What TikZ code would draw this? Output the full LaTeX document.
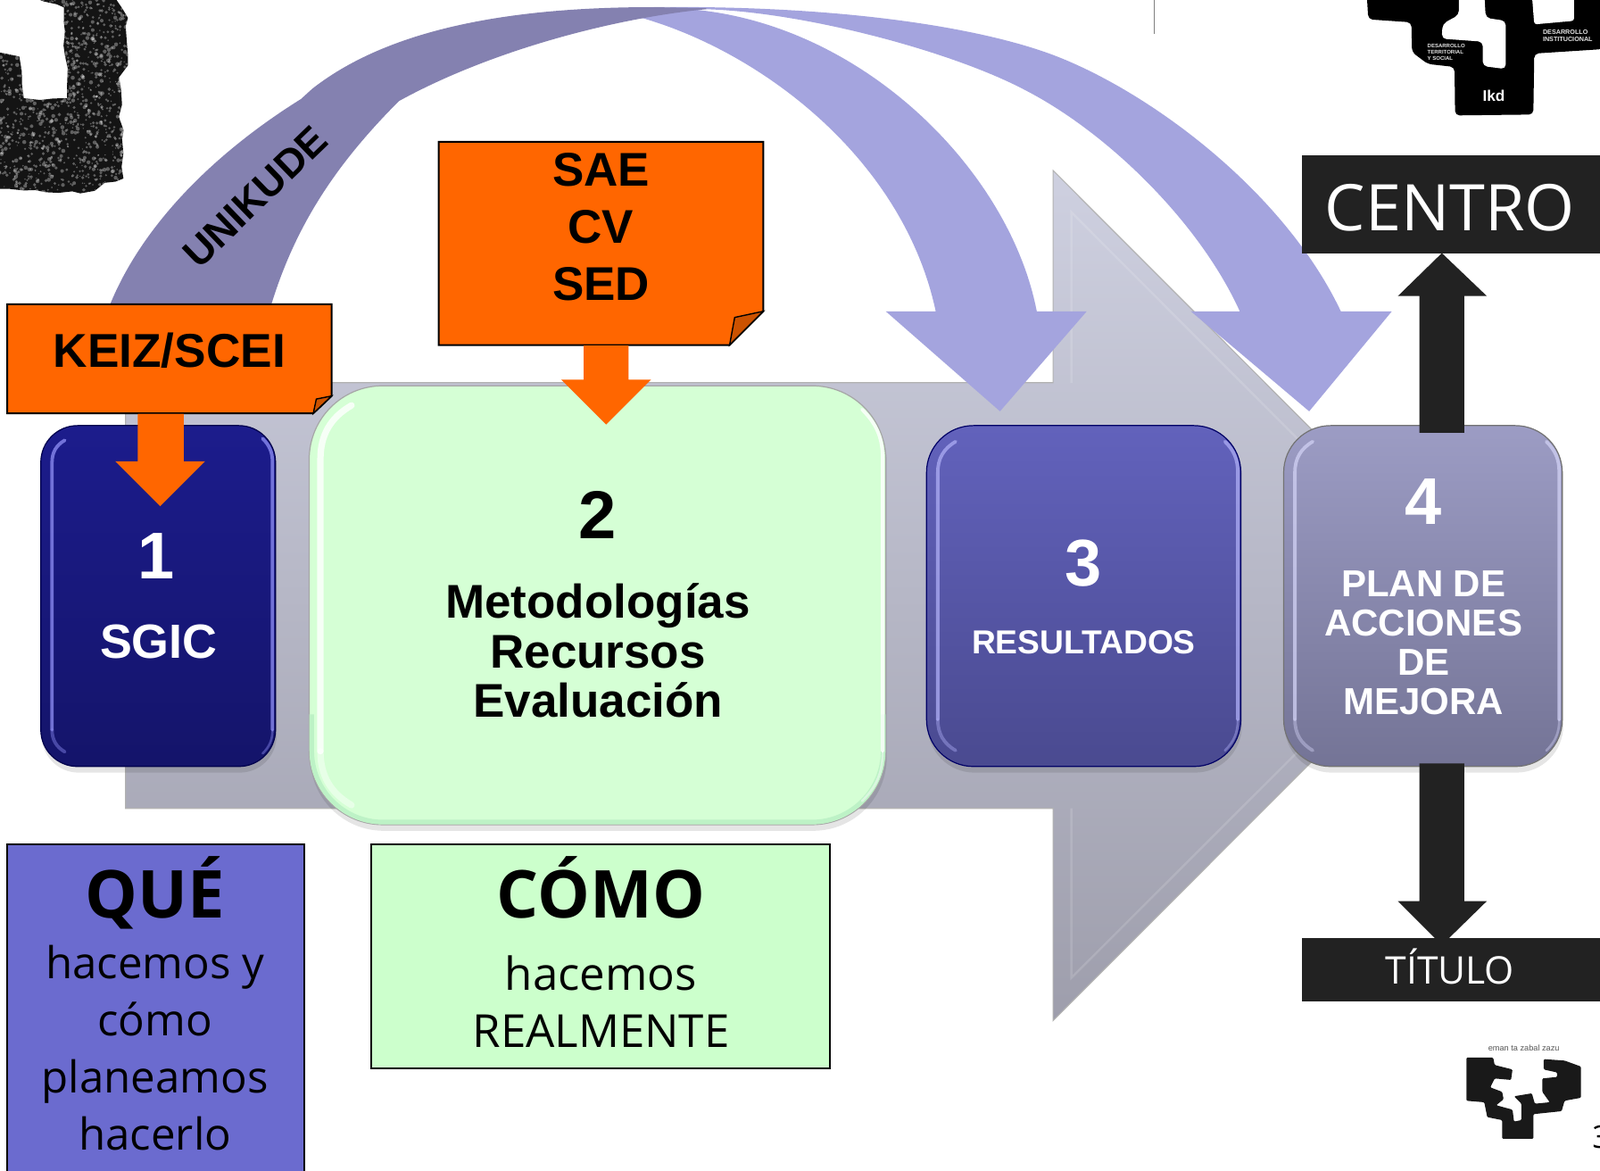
\documentclass[tikz,border=0pt]{standalone}
\usepackage{fontspec}
\usetikzlibrary{decorations.pathmorphing}
\setmainfont{Liberation Sans}
\newfontfamily\osans{Open Sans}
\definecolor{orangeC}{HTML}{FF6600}
\definecolor{foldC}{HTML}{CC5200}
\definecolor{lilac}{HTML}{A4A4DE}
\definecolor{slateC}{HTML}{8481B0}
\definecolor{inkC}{HTML}{222222}
\definecolor{queC}{HTML}{6B6BCF}
\definecolor{mintC}{HTML}{CCFFCC}
\definecolor{bigT}{HTML}{CED0E0}
\definecolor{bigB}{HTML}{9E9EAC}
\definecolor{oneT}{HTML}{1C1C8C}
\definecolor{oneB}{HTML}{14146A}
\definecolor{oneH}{HTML}{8888EE}
\definecolor{twoT}{HTML}{D5FFD5}
\definecolor{twoR}{HTML}{BDF2C6}
\definecolor{threeT}{HTML}{6262BC}
\definecolor{threeB}{HTML}{4A4A90}
\definecolor{threeH}{HTML}{A8A8F0}
\definecolor{fourT}{HTML}{9C9CC4}
\definecolor{fourB}{HTML}{747496}
\definecolor{fourH}{HTML}{CDCDF0}
\tikzset{
  bbt/.style={font=\bfseries\fontsize{#1}{#1}\selectfont,inner sep=0pt,anchor=base},
  wbt/.style={bbt=#1,text=white},
  ost/.style={font=\osans\fontsize{#1}{#1}\selectfont,inner sep=0pt,anchor=base},
  osb/.style={font=\osans\bfseries\fontsize{#1}{#1}\selectfont,inner sep=0pt,anchor=base},
  calloutC/.style={fill=orangeC,draw=black,line width=1pt,line join=miter},
  foldS/.style={fill=foldC,draw=black,line width=.7pt},
  labelbox/.style={draw=black,line width=1pt},
  tinyw/.style={font=\bfseries\fontsize{3.6}{4.2}\selectfont,text=white!90!black,inner sep=0pt,align=left,anchor=north west},
}
\newcommand{\bevelbox}[9]{%
  \fill[black,opacity=.10,rounded corners=#6*.57175pt] ({#2+1},{#3+3}) rectangle ({#4+1},{#5+6});
  \node[inner sep=0pt,rounded corners=#6*.57175pt,draw=#9,line width=.6pt,top color=#7,bottom color=#8,
        minimum width={(#4-#2)*.57175pt},minimum height={(#5-#3)*.57175pt}] (#1) at ({(#2+#4)/2},{(#3+#5)/2}) {};
}
\newcommand{\hlw}{1.9pt}
% x0 y0 x1 y1 r colour
\newcommand{\bevelhl}[6]{%
  \draw[#6,line width=\hlw,opacity=.8,line cap=round] ({#1+11},{#4-#5}) -- ({#1+11},{#2+#5}) to[out=90,in=210] ({#1+#5*.5+5.5},{#2+#5*.134+9.526});
  \draw[#6,line width=1.9pt,opacity=.8,line cap=round] ({#3-3},{#4-#5}) -- ({#3-3},{#2+#5}) to[out=90,in=-45] ({#3-#5*.2929-2.121},{#2+#5*.2929+2.121});
  \draw[#6,line width=\hlw,opacity=.45,line cap=round] ({#1+11},{#4-#5}) to[out=-90,in=150] ({#1+#5*.5+5.5},{#4-#5*.134-9.526});
  \draw[#6,line width=1.3pt,opacity=.45,line cap=round] ({#3-3},{#4-#5}) to[out=-90,in=45] ({#3-#5*.2929-2.121},{#4-#5*.2929-2.121});
}
\begin{document}
\begin{tikzpicture}[x=.57175pt,y=-.57175pt]
\useasboundingbox (0,0) rectangle (1568,1146.5);
\clip (0,0) rectangle (1568,1146.5);
\fill[white] (0,0) rectangle (1568,1146.5);

% speckled mark, top left
\begin{scope}[x=.16667pt,y=-.16667pt]
  \begin{scope}
    \clip[decorate,decoration={random steps,segment length=7pt,amplitude=1.3pt}]
      (110,-10) -- (215,25) -- (225,330) -- (80,330) -- (65,190) -- (-10,175) -- (-10,635) -- (270,650) -- (415,600) -- (400,260) -- (430,220) -- (430,60) -- (385,-10) -- cycle;
    \fill[black!92] (-10,-10) rectangle (440,660);
    \pgfmathsetseed{11}
    \foreach \i in {1,...,1300} {
      \pgfmathsetmacro{\px}{rnd*440}
      \pgfmathsetmacro{\py}{rnd*660}
      \pgfmathsetmacro{\pr}{2+rnd*5}
      \fill[white,opacity=.32] (\px,\py) circle [radius=\pr*.16667pt];
    }
  \end{scope}
\end{scope}

\draw[gray,line width=.7pt] (1131,0) -- (1131,33);

% big background arrow
\draw[draw=black!30,line width=.6pt,top color=bigT,bottom color=bigB]
  (123,375) -- (1032,375) -- (1032,167) -- (1448,583.5) -- (1032,1000) -- (1032,792) -- (123,792) -- cycle;
\draw[white,opacity=.14,line width=1.2pt] (1050,375) -- (1050,208) -- (1425,583.5) -- (1050,958) -- (1050,792);

% curved arrows
\fill[lilac] (640,7) -- (650,8) .. controls (830,8) and (988,160) .. (1016,305)
  -- (1065,305) -- (980,403) -- (868,305) -- (917,305)
  .. controls (885,155) and (745,50) .. (627,17) -- cycle;
\fill[lilac] (640,7) .. controls (830,5) and (965,28) .. (1035,55)
  .. controls (1130,92) and (1259,189) .. (1314,305)
  -- (1364,305) -- (1283,403) -- (1167,305) -- (1215,305)
  .. controls (1175,217) and (1085,130) .. (1006,89)
  .. controls (935,51) and (790,12) .. (692,9) -- cycle;
\fill[slateC] (108,298) .. controls (140,220) and (210,150) .. (295,97)
  -- (306,87) .. controls (385,25) and (510,7) .. (640,7) -- (692,8) -- (692,9)
  .. controls (600,18) and (480,50) .. (391,99)
  .. controls (330,160) and (290,220) .. (266,298) -- cycle;
\node[bbt=22.4,anchor=center,rotate=44] (unikude) at (250,193) {UNIKUDE};

% numbered boxes
\bevelbox{box1}{40}{417}{270}{751}{36}{oneT}{oneB}{black!70!blue}
\bevelhl{40}{417}{270}{751}{36}{oneH}
\bevelbox{box2}{303}{378}{868}{808}{72}{twoT}{twoT}{black!35}
\draw[twoR,line width=2.6pt,rounded corners=40pt] (305.5,700) -- (305.5,805.5) -- (865.5,805.5) -- (865.5,700);
\renewcommand{\hlw}{3.6pt}
\bevelhl{303}{378}{868}{808}{72}{white}
\renewcommand{\hlw}{1.9pt}
\bevelbox{box3}{908}{417}{1216}{751}{46}{threeT}{threeB}{black!60!blue}
\bevelhl{908}{417}{1216}{751}{46}{threeH}
\bevelbox{box4}{1258}{417}{1531}{751}{46}{fourT}{fourB}{black!55}
\bevelhl{1258}{417}{1531}{751}{46}{fourH}

\node[wbt=37] (n1) at (153,567) {1};
\node[wbt=26.9] (sgic) at (155.5,645) {SGIC};
\node[bbt=38] (n2) at (586,528) {2};
\node[bbt=26.4,anchor=center,align=center,font=\bfseries\fontsize{26.5}{27.6}\selectfont] (two) at (586,637.5) {Metodologías\\Recursos\\Evaluación};
\node[wbt=37] (n3) at (1062,574.5) {3};
\node[wbt=18.6] (res) at (1062,641) {RESULTADOS};
\node[wbt=37] (n4) at (1395,513.5) {4};
\node[wbt=21,anchor=center,align=center,font=\bfseries\fontsize{21}{22.1}\selectfont] (plan) at (1395,630) {PLAN DE\\ACCIONES\\DE\\MEJORA};

% callouts
\path[calloutC] (7,298) -- (325,298) -- (325,388) -- (307,405) -- (7,405) -- cycle;
\path[foldS] (307,405) -- (310,391) -- (325,388) -- cycle;
\node[bbt=26.6] (keiz) at (166,360) {KEIZ/SCEI};
\fill[orangeC] (135,405.5) -- (180,405.5) -- (180,452) -- (201,452) -- (157,496) -- (113,452) -- (135,452) -- cycle;

\path[calloutC] (430,139) -- (748,139) -- (748,305) -- (715,338) -- (430,338) -- cycle;
\path[foldS] (715,338) -- (720,311) -- (748,305) -- cycle;
\node[bbt=26.3,anchor=center,align=center,font=\bfseries\fontsize{26.5}{32}\selectfont] (sae) at (589,222) {SAE\\CV\\SED};
\fill[orangeC] (572,338.5) -- (616,338.5) -- (616,372) -- (638,372) -- (594,416) -- (550,372) -- (572,372) -- cycle;

% dark arrows and labels
\fill[inkC] (1391,424) -- (1391,290) -- (1370,290) -- (1413,248) -- (1457,290) -- (1435,290) -- (1435,424) -- cycle;
\fill[inkC] (1391,748) -- (1435,748) -- (1435,883) -- (1457,883) -- (1413,926) -- (1370,883) -- (1391,883) -- cycle;
\fill[inkC] (1276,152) rectangle (1568,248);
\fill[inkC] (1276,919) rectangle (1568,981);
\node[ost=36,text=white] (centro) at (1421,226) {CENTRO};
\node[ost=21.3,text=white] (titulo) at (1421,964) {TÍTULO};

% lower label boxes
\path[labelbox,fill=queC] (7,827) rectangle (298,1170);
\path[labelbox,fill=mintC] (364,827) rectangle (813,1047);
\node[osb=37] (que) at (152,899) {QUÉ};
\node[ost=25,anchor=center,align=center,font=\osans\fontsize{24.6}{32}\selectfont] (queT) at (152,1027) {hacemos y\\cómo\\planeamos\\hacerlo};
\node[osb=37] (como) at (589,899) {CÓMO};
\node[ost=25,anchor=center,align=center,font=\osans\fontsize{25.5}{32}\selectfont] (comoT) at (589,981) {hacemos\\REALMENTE};

% top-right emblem
\begin{scope}[shift={(1268,0)},x=.16667pt,y=-.16667pt]
  \fill[black,rounded corners=2.5pt] (245,-20) -- (250,65) -- (395,75) -- (397,175) -- (450,215) -- (540,225) -- (542,388) -- (805,385) -- (808,180) -- (1040,165) -- (1040,-20) -- cycle;
  \fill[white,rounded corners=2.5pt] (555,-20) -- (555,50) -- (500,80) -- (497,130) -- (635,140) -- (635,222) -- (712,232) -- (712,70) -- (645,60) -- (640,-20) -- cycle;
  \fill[white,rounded corners=1.5pt] (800,-20) -- (808,82) -- (942,70) -- (942,-20) -- cycle;
  \node[tinyw] (ins) at (836,98) {DESARROLLO\\INSTITUCIONAL};
  \node[tinyw,font=\bfseries\fontsize{3}{3.4}\selectfont] (ter) at (448,148) {DESARROLLO\\TERRITORIAL\\Y SOCIAL};
  \node[font=\bfseries\fontsize{8.6}{9}\selectfont,text=white,inner sep=0pt] (ikd) at (672,322) {Ikd};
\end{scope}

% bottom-right emblem
\begin{scope}[shift={(1381.7,996.9)},x=.16667pt,y=-.16667pt]
  \fill[black!90,rounded corners=.6pt] (190,135) -- (280,135) -- (285,160) -- (345,175) -- (340,210) -- (285,205) -- (270,235) -- (310,250) -- (315,275) -- (290,295) -- (345,310) -- (350,350) -- (375,345) -- (375,290) -- (350,265) -- (410,255) -- (420,290) -- (470,285) -- (445,250) -- (445,205) -- (495,200) -- (495,185) -- (450,175) -- (450,140) -- (520,145) -- (575,165) -- (575,270) -- (520,280) -- (510,315) -- (415,325) -- (415,408) -- (310,408) -- (310,345) -- (260,335) -- (250,285) -- (190,280) -- cycle;
  \node[font=\fontsize{4.6}{4.6}\selectfont,text=black!65,inner sep=0pt] (eman) at (383,104) {eman ta zabal zazu};
\end{scope}
\node[ost=17.5,anchor=base west] (pg) at (1560,1125) {3};
\end{tikzpicture}
\end{document}
